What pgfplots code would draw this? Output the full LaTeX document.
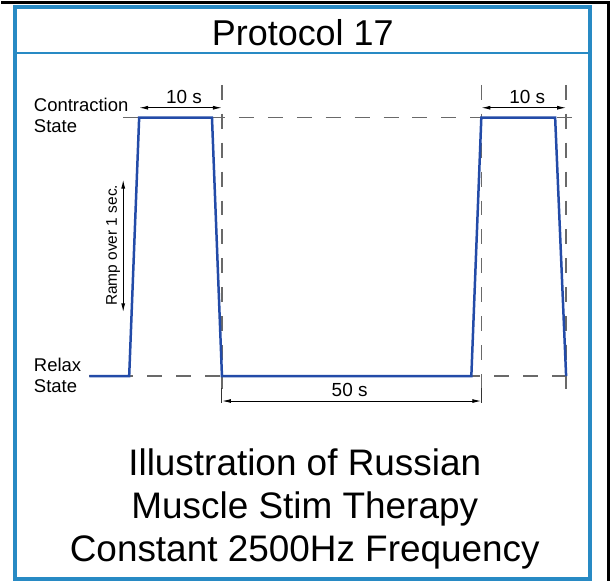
\documentclass[border=0pt]{standalone}
\usepackage{pgfplots}
\pgfplotsset{compat=1.18}
\usepackage{fontspec}
\setmainfont{Liberation Sans}
\usetikzlibrary{arrows.meta}
\definecolor{frameblue}{RGB}{40,138,196}
\definecolor{waveblue}{RGB}{35,75,168}
\definecolor{dashgray}{RGB}{105,105,105}
\begin{document}
\begin{tikzpicture}
\begin{axis}[
  scale only axis, width=612pt, height=582pt,
  xmin=0, xmax=612, ymin=0, ymax=582, y dir=reverse,
  hide axis, clip=false,
]
\path (axis cs:0,0) rectangle (axis cs:612,582);
% page border
\draw[black, line width=3pt] (axis cs:0,3) -- (axis cs:608.5,3) -- (axis cs:608.5,582);
% frame
\draw[frameblue, line width=4pt] (axis cs:13.5,7.5) rectangle (axis cs:589.5,580);
\draw[frameblue, line width=2pt] (axis cs:13.5,53) -- (axis cs:589.5,53);
\node[font=\fontsize{36}{40}\selectfont, anchor=base] at (axis cs:302,46) {Protocol 17};
% dashed guide lines
\addplot[dashgray, line width=1.3pt, dash pattern=on 15pt off 14pt] coordinates {(122,118) (585,118)};
\addplot[dashgray, line width=1.3pt, dash pattern=on 15pt off 14pt] coordinates {(88,377) (580,377)};
\addplot[dashgray, line width=1.3pt, dash pattern=on 15pt off 14pt] coordinates {(221,85) (221,403)};
\addplot[dashgray, line width=1.3pt, dash pattern=on 15pt off 14pt] coordinates {(481,85) (481,403)};
\addplot[dashgray, line width=1.3pt, dash pattern=on 15pt off 14pt] coordinates {(566,85) (566,403)};
% solid extension lines for 50 s
\addplot[black!80, line width=1pt] coordinates {(221,389) (221,404)};
\addplot[black!80, line width=1pt] coordinates {(481,389) (481,404)};
% waveform
\addplot[waveblue, line width=2.5pt] coordinates {(88,377) (128,377) (138,118) (211,118) (221,377) (471,377) (481,118) (555,118) (566,377)};
% dimension arrows
\draw[{Latex[length=9pt,width=4pt]}-{Latex[length=9pt,width=4pt]}, line width=1pt] (axis cs:138,108) -- (axis cs:221,108);
\draw[{Latex[length=9pt,width=4pt]}-{Latex[length=9pt,width=4pt]}, line width=1pt] (axis cs:481,108) -- (axis cs:566,108);
\draw[{Latex[length=9pt,width=4pt]}-{Latex[length=9pt,width=4pt]}, line width=1pt] (axis cs:221,402) -- (axis cs:481,402);
\draw[{Latex[length=9pt,width=4pt]}-{Latex[length=9pt,width=4pt]}, line width=1pt] (axis cs:122,180) -- (axis cs:122,313);
% labels
\node[font=\fontsize{19}{22}\selectfont, anchor=base] at (axis cs:183,104) {10 s};
\node[font=\fontsize{19}{22}\selectfont, anchor=base] at (axis cs:527,104) {10 s};
\node[font=\fontsize{19}{22}\selectfont, anchor=base] at (axis cs:349,397) {50 s};
\node[font=\fontsize{15.5}{18}\selectfont, rotate=90] at (axis cs:112,246) {Ramp over 1 sec.};
\node[font=\fontsize{18.5}{21}\selectfont, anchor=base west] at (axis cs:29,112) {Contraction};
\node[font=\fontsize{18.5}{21}\selectfont, anchor=base west] at (axis cs:29,133) {State};
\node[font=\fontsize{18.5}{21}\selectfont, anchor=base west] at (axis cs:29,372) {Relax};
\node[font=\fontsize{18.5}{21}\selectfont, anchor=base west] at (axis cs:29,393) {State};
% caption
\node[font=\fontsize{37}{44}\selectfont, anchor=base] at (axis cs:304,477) {Illustration of Russian};
\node[font=\fontsize{37}{44}\selectfont, anchor=base] at (axis cs:304,520) {Muscle Stim Therapy};
\node[font=\fontsize{37}{44}\selectfont, anchor=base] at (axis cs:304,563) {Constant 2500Hz Frequency};
\end{axis}
\end{tikzpicture}
\end{document}
